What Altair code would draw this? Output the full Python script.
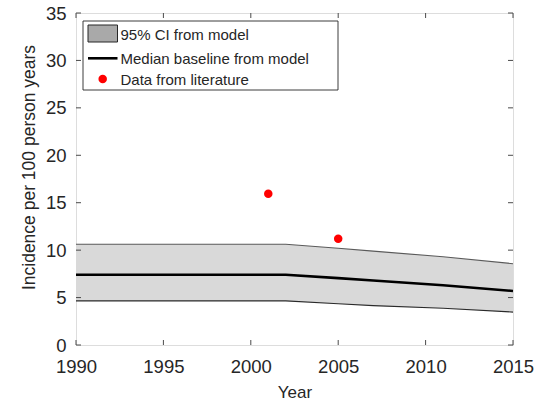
import altair as alt
import pandas as pd

# Model output: 95% CI bounds and median baseline incidence
model_years = [1990, 2002, 2005, 2007, 2011, 2015]
ci_lower = [4.65, 4.65, 4.35, 4.15, 3.87, 3.47]
ci_upper = [10.62, 10.62, 10.2, 9.9, 9.3, 8.57]
median_baseline = [7.4, 7.4, 7.05, 6.8, 6.3, 5.7]

# Incidence estimates reported in the literature
lit_years = [2001, 2005]
lit_values = [15.95, 11.2]

x_ticks = [1990, 1995, 2000, 2005, 2010, 2015]
y_ticks = [0, 5, 10, 15, 20, 25, 30, 35]

legend_labels = ["95% CI from model", "Median baseline from model", "Data from literature"]

W, H = 437, 332
FONT = "Liberation Sans"
AX = "#262626"

model = pd.DataFrame({"year": model_years, "lo": ci_lower, "hi": ci_upper, "med": median_baseline})
lit = pd.DataFrame({"year": lit_years, "val": lit_values})
xt = pd.DataFrame({"year": x_ticks})
yt = pd.DataFrame({"v": y_ticks})
one = pd.DataFrame({"k": [0]})

xscale = alt.Scale(domain=[1990, 2015], nice=False, zero=False)
yscale = alt.Scale(domain=[0, 35], nice=False)

xaxis = alt.Axis(values=x_ticks, format="d", ticks=False, domain=False, grid=False,
                 labelFontSize=18.5, labelFont=FONT, labelColor=AX, labelPadding=12,
                 labelFlush=False, title="Year", titleFont=FONT, titleFontSize=17,
                 titleFontWeight="normal", titleColor=AX, titlePadding=9)
yaxis = alt.Axis(values=y_ticks, ticks=False, domain=False, grid=False,
                 labelFontSize=18.5, labelFont=FONT, labelColor=AX, labelPadding=10,
                 title="Incidence per 100 person years", titleFont=FONT, titleFontSize=17.5,
                 titleFontWeight="normal", titleColor=AX, titlePadding=7, titleY=154)


def xq(field):
    return alt.X(field, type="quantitative", scale=xscale, axis=xaxis)


def yq(field):
    return alt.Y(field, type="quantitative", scale=yscale, axis=yaxis)


band = alt.Chart(model).mark_area(color="#d9d9d9", opacity=1).encode(
    x=xq("year"), y=yq("lo"), y2="hi:Q")
upper = alt.Chart(model).mark_line(color="#5a5a5a", strokeWidth=1.1).encode(
    x=xq("year"), y=yq("hi"))
lower = alt.Chart(model).mark_line(color="#2a2a2a", strokeWidth=1.1).encode(
    x=xq("year"), y=yq("lo"))
median = alt.Chart(model).mark_line(color="black", strokeWidth=2.6).encode(
    x=xq("year"), y=yq("med"))
points = alt.Chart(lit).mark_circle(color="#ff0000", opacity=1, size=72).encode(
    x=xq("year"), y=yq("val"))

# Inward ticks on all four sides of the box
tick_style = dict(color="#4a4a4a", strokeWidth=1)
tb = alt.Chart(xt).mark_rule(**tick_style).encode(x=xq("year"), y=alt.value(H), y2=alt.value(H - 5))
tt = alt.Chart(xt).mark_rule(**tick_style).encode(x=xq("year"), y=alt.value(0), y2=alt.value(5))
tl = alt.Chart(yt).mark_rule(**tick_style).encode(y=yq("v"), x=alt.value(0), x2=alt.value(5))
tr = alt.Chart(yt).mark_rule(**tick_style).encode(y=yq("v"), x=alt.value(W), x2=alt.value(W - 5))

# Legend box
leg_box = alt.Chart(one).mark_rect(fill="white", stroke=AX, strokeWidth=0.9).encode(
    x=alt.value(7), x2=alt.value(262), y=alt.value(8), y2=alt.value(77))
leg_patch = alt.Chart(one).mark_rect(fill="#a9a9a9", stroke=AX, strokeWidth=1).encode(
    x=alt.value(12), x2=alt.value(41.5), y=alt.value(12), y2=alt.value(29))
leg_line = alt.Chart(one).mark_rule(color="black", strokeWidth=2.6).encode(
    x=alt.value(12), x2=alt.value(41.5), y=alt.value(45.3))
leg_dot = alt.Chart(one).mark_circle(color="#ff0000", opacity=1, size=72).encode(
    x=alt.value(26.7), y=alt.value(66))
leg_texts = [
    alt.Chart(one).mark_text(align="left", baseline="middle", font=FONT,
                             fontSize=15, color=AX).encode(
        x=alt.value(44.5), y=alt.value(yy), text=alt.value(lab))
    for lab, yy in zip(legend_labels, [21.5, 45.5, 66.5])
]

chart = alt.layer(
    band, upper, lower, median, points, tb, tt, tl, tr,
    leg_box, leg_patch, leg_line, leg_dot, *leg_texts
).properties(
    width=W, height=H,
    autosize=alt.AutoSizeParams(type="none"),
    padding={"left": 76, "top": 13, "right": 34, "bottom": 59},
).configure_view(stroke="#5e5e5e", strokeWidth=1).configure(background="white")

chart.save("out.html", embed_options={"renderer": "svg", "actions": False})
